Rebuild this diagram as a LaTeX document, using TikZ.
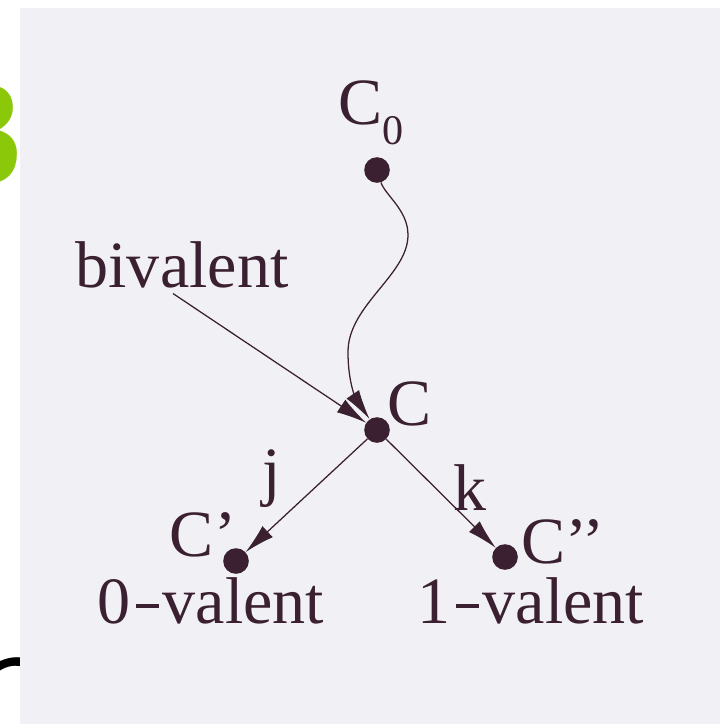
\documentclass[tikz,border=0pt]{standalone}
\usepackage{fontspec}
\setmainfont{Liberation Serif}
\usetikzlibrary{arrows.meta,positioning,calc}
\definecolor{ink}{RGB}{58,32,48}
\definecolor{paper}{RGB}{241,241,245}
\definecolor{lime}{RGB}{140,200,10}
\newcommand{\valdash}{\kern0.07em\rule[0.23em]{0.36em}{0.065em}\kern0.05em}

\begin{document}
\begin{tikzpicture}[x=0.025cm,y=-0.025cm,
  dot/.style={circle, fill=ink, inner sep=0pt, minimum size=0.64cm},
  lbl/.style={text=ink, font=\fontsize{47}{50}\selectfont, inner sep=0pt},
  edge/.style={draw=ink, line width=0.9pt, -{Latex[length=0.75cm,width=0.38cm]}}]
\useasboundingbox (0,0) rectangle (720,724);
% cut-off marks at the left edge
\node[text=lime, font=\sffamily\bfseries\fontsize{96}{100}\selectfont, anchor=east, inner sep=0pt] (three) at (24,135) {3};
\node[text=black, font=\sffamily\itshape\fontsize{96}{100}\selectfont, anchor=east, inner sep=0pt] (cmark) at (30,705) {C};
\fill[paper] (20,8) rectangle (720,724);
% states
\node[dot] (c0) at (377,170) {};
\node[dot] (c) at (377,430) {};
\node[dot] (cp) at (236,561) {};
\node[dot] (cpp) at (505,557) {};
\node[lbl] (c0lbl) at (371,113) {C\raisebox{-0.3em}{\fontsize{30}{32}\selectfont 0}};
\node[lbl] (clbl) at (410,404) {C};
\node[lbl] (cplbl) at (203,535) {C’};
\node[lbl] (cpplbl) at (563,542) {C’’};
\node[lbl] (zero) at (211,601) {0\valdash valent};
\node[lbl] (one) at (531,601) {1\valdash valent};
\node[lbl] (biv) at (182,265) {bivalent};
\node[lbl] (j) at (272,479) {j};
\node[lbl] (k) at (470,488) {k};
% transitions
\draw[edge] (c0) .. controls (385,195) and (408,210) .. (408,235)
  .. controls (408,275) and (348,305) .. (348,352)
  .. controls (348,390) and (360,405) .. (c);
\draw[edge] ($(biv.south)+(-9,5)$) -- (c);
\draw[edge] (c) -- (cp);
\draw[edge] (c) -- (cpp);
\end{tikzpicture}
\end{document}
